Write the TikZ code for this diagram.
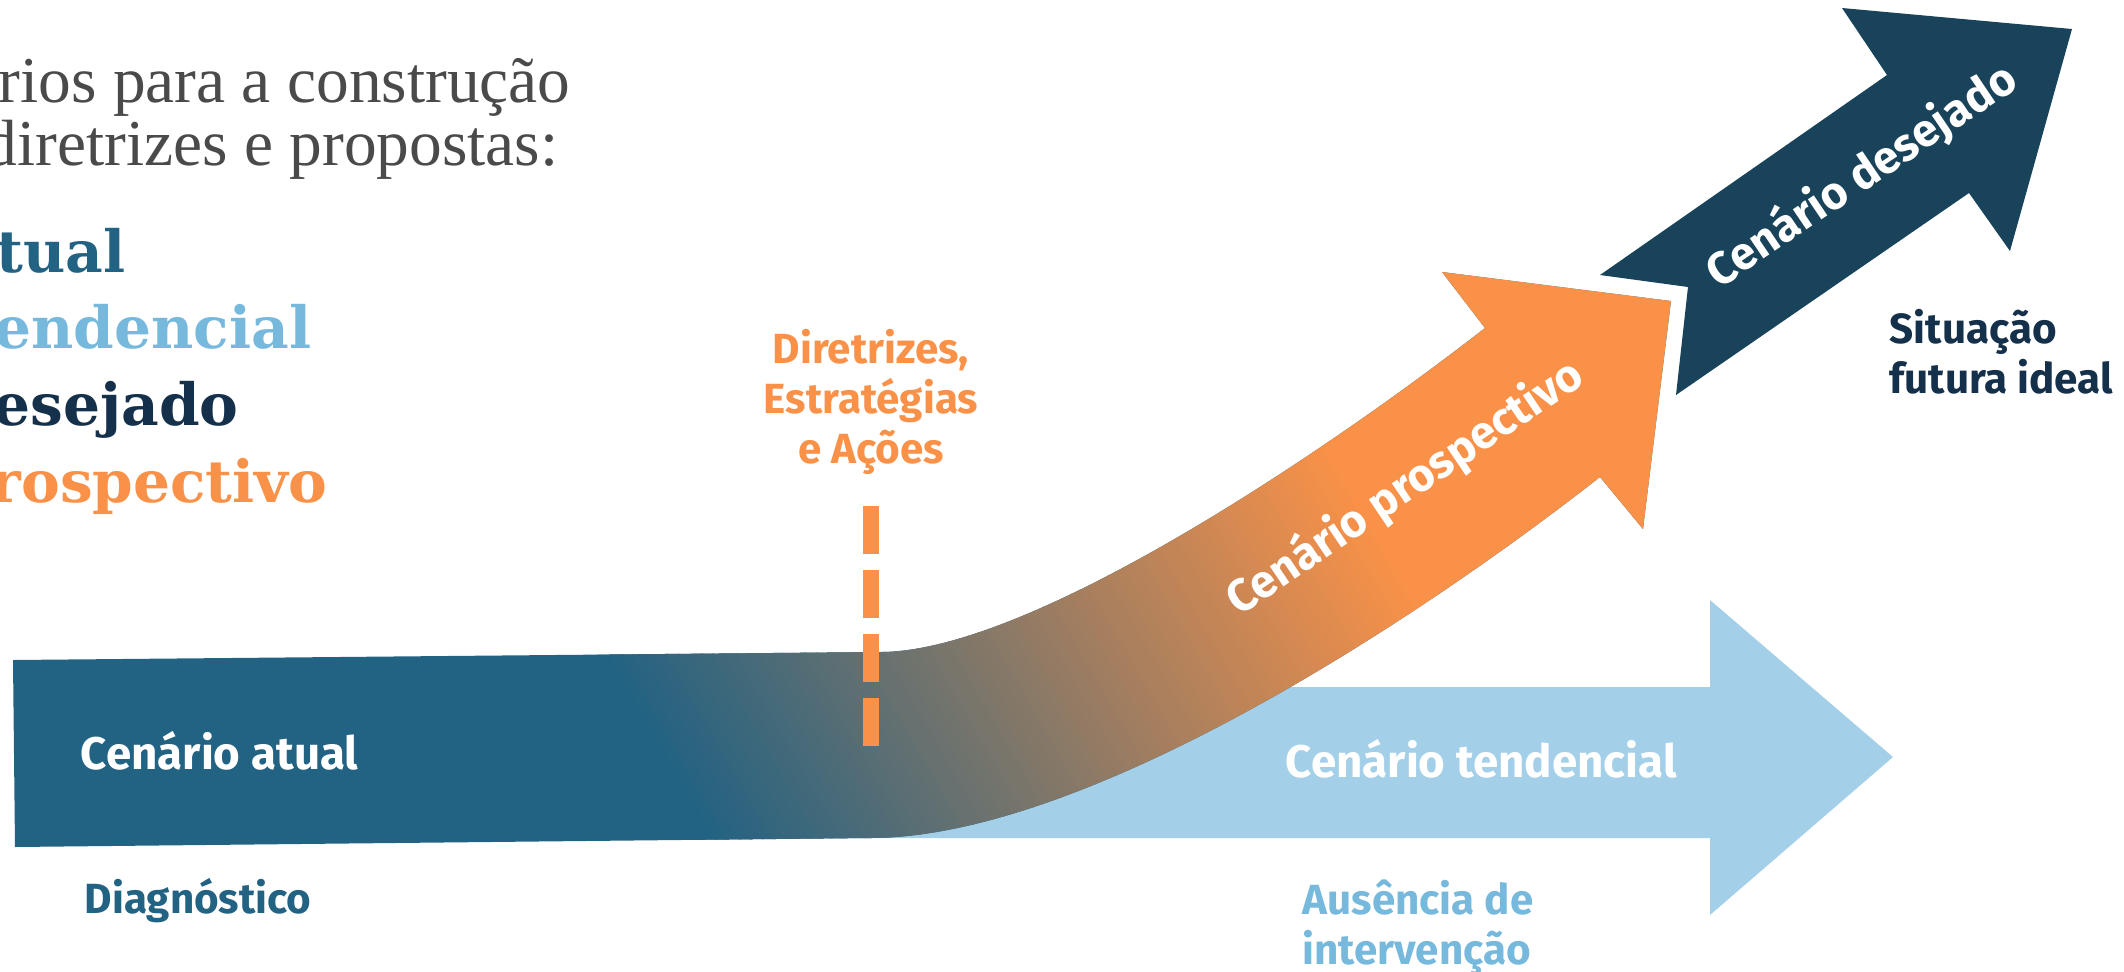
\documentclass[tikz,border=0pt]{standalone}
\usepackage{fontspec}
\setmainfont{Fira Sans}
\newfontfamily\headfont{Liberation Serif}
\newfontfamily\slabfont{DejaVu Serif}
\definecolor{atualblue}{HTML}{226283}
\definecolor{tendblue}{HTML}{A3D0E8}
\definecolor{tendtext}{HTML}{76B9DD}
\definecolor{prosporange}{HTML}{F99148}
\definecolor{desejnavy}{HTML}{18435A}
\definecolor{desejtext}{HTML}{15304A}
\definecolor{headgray}{HTML}{4A4A4A}

\begin{document}
\begin{tikzpicture}[x=0.1mm, y=-0.1mm, line join=miter,
	lbl/.style={font=\bfseries\fontsize{13}{16}\selectfont, inner sep=0pt},
	sublbl/.style={font=\bfseries\fontsize{12}{14.2}\selectfont, inner sep=0pt, align=left},
	headtxt/.style={font=\headfont\fontsize{18.6}{22}\selectfont, text=headgray, inner sep=0pt, anchor=base west},
	slabtxt/.style={font=\slabfont\bfseries\fontsize{16.55}{19}\selectfont, inner sep=0pt, anchor=base west}]
	
	\useasboundingbox (0,0) rectangle (2124,971);
	\clip (0,0) rectangle (2124,971);
	
	%========================
	% Left: heading and legend
	%========================
	\node[headtxt] (head1) at (-2,102) {rios para a construção};
	\node[headtxt] (head2) at (-16,165) {diretrizes e propostas:};
	\node[slabtxt, text=atualblue] (legatual) at (-4,272) {tual};
	\node[slabtxt, text=tendtext] (legtend) at (-6,348) {endencial};
	\node[slabtxt, text=desejtext] (legdesej) at (-7,425) {esejado};
	\node[slabtxt, text=prosporange] (legprosp) at (-10,502) {rospectivo};
	
	%========================
	% Arrows
	%========================
	% tendencial: straight arrow, partly under the band
	\fill[tendblue] (860,687) -- (1710,687) -- (1710,600) -- (1893,757)
	-- (1710,915) -- (1710,838) -- (860,838) -- cycle;
	
	% atual bar bending into the prospectivo arrow
	% gradient: stripes across s = 0.866x - 0.5y, blue at s=190, orange at s=920
	\begin{scope}
		\clip (13,660) -- (880,652) .. controls (1030,652) and (1327,451) .. (1485,328)
		-- (1442,272) -- (1671,301) -- (1643,529) -- (1600,477)
		.. controls (1403,631) and (1080,838) .. (870,838) -- (15,847) -- cycle;
		\fill[atualblue] (0,200) rectangle (1700,900);
		\foreach \i in {0,...,73} {
			\pgfmathsetmacro\sa{190+10*\i}
			\pgfmathsetmacro\sb{\sa+12}
			\pgfmathsetmacro\pct{100*\i/73}
			\fill[prosporange!\pct!atualblue]
			({0.866*\sa},{-0.5*\sa}) -- ({0.866*\sb},{-0.5*\sb})
			-- ({0.866*\sb+900},{-0.5*\sb+1559}) -- ({0.866*\sa+900},{-0.5*\sa+1559}) -- cycle;
		}
		\fill[prosporange] (796.7,-460) -- (1212.4,-700) -- (2112.4,859) -- (1696.7,1099) -- cycle;
	\end{scope}
	
	% desejado arrow, notched tail
	\fill[desejnavy] (1600,275) -- (1887,75) -- (1842,8) -- (2072,29)
	-- (2010,251) -- (1969,193) -- (1676,395) -- (1688,287) -- cycle;
	
	% dashed marker for the turning point
	\coordinate (markTop) at (871,506);
	\coordinate (markBot) at (871,746);
	\draw[prosporange, line width=1.6mm, dash pattern=on 4.8mm off 1.6mm] (markTop) -- (markBot);
	
	%========================
	% Labels
	%========================
	\node[lbl, text=white, anchor=base west] (atual) at (80,769) {Cenário atual};
	\node[sublbl, text=atualblue, anchor=base west] (diag) at (84,913) {Diagnóstico};
	\node[lbl, text=white, anchor=base west] (tend) at (1285,777) {Cenário tendencial};
	\node[sublbl, text=tendtext, anchor=base west] (ausencia) at (1302,964) {Ausência de\\intervenção};
	\node[lbl, text=white, rotate=34] (prosp) at (1405,488) {Cenário prospectivo};
	\node[lbl, text=white, rotate=34] (desej) at (1862,176) {Cenário desejado};
	\node[sublbl, text=desejtext, anchor=base west] (situacao) at (1889,393) {Situação\\futura ideal};
	\node[sublbl, text=prosporange, align=center, anchor=base] (diretrizes) at (871,463) {Diretrizes,\\Estratégias\\e Ações};
	
\end{tikzpicture}
\end{document}
